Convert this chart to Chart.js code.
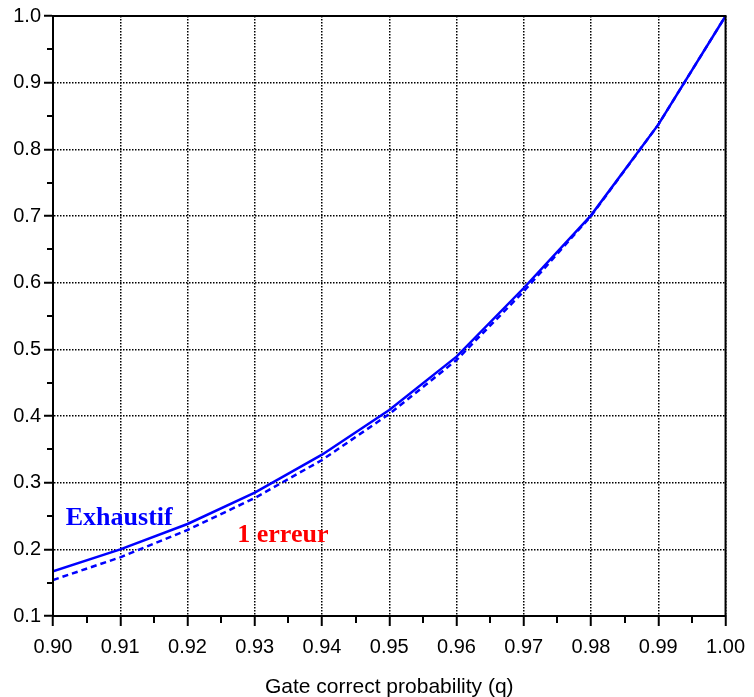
<!DOCTYPE html>
<html>
<head>
<meta charset="utf-8">
<script src="https://cdn.jsdelivr.net/npm/chart.js@4/dist/chart.umd.min.js"></script>
<style>body{margin:0;background:#fff}</style>
</head>
<body>
<canvas id="chart" width="754" height="697"></canvas>
<script>
let qValues   = [0.90, 0.91, 0.92, 0.93, 0.94, 0.95, 0.96, 0.97, 0.98, 0.99, 1.00];
let exhaustif = [0.167, 0.200, 0.238, 0.285, 0.342, 0.409, 0.489, 0.592, 0.701, 0.837, 1.000];
let unErreur  = [0.154, 0.188, 0.229, 0.277, 0.334, 0.403, 0.484, 0.587, 0.700, 0.837, 1.000];

let xMinorTicks = [0.905, 0.915, 0.925, 0.935, 0.945, 0.955, 0.965, 0.975, 0.985, 0.995];
let yMinorTicks = [0.15, 0.25, 0.35, 0.45, 0.55, 0.65, 0.75, 0.85, 0.95];

// text labels placed in data coordinates
let labelTexts  = ['Exhaustif', '1 erreur'];
let labelColors = ['#0000ff', '#ff0000'];
let labelX      = [0.9019, 0.9274];
let labelY      = [0.2365, 0.2115];

function toPoints(ys){
    return qValues.map((q, i) => ({x: q, y: ys[i]}));
}

let extras = {
    id: 'extras',
    afterDraw(chart){
        let ctx = chart.ctx;
        let xs = chart.scales.x, ys = chart.scales.y;
        let area = chart.chartArea;
        ctx.save();
        ctx.strokeStyle = '#000';
        ctx.lineWidth = 2;
        ctx.setLineDash([]);
        // minor ticks
        ctx.beginPath();
        xMinorTicks.forEach(v => {
            let px = Math.round(xs.getPixelForValue(v));
            ctx.moveTo(px, area.bottom);
            ctx.lineTo(px, area.bottom + 7);
        });
        yMinorTicks.forEach(v => {
            let py = Math.round(ys.getPixelForValue(v));
            ctx.moveTo(area.left, py);
            ctx.lineTo(area.left - 6, py);
        });
        ctx.stroke();
        // frame
        ctx.strokeRect(area.left, area.top, area.right - area.left, area.bottom - area.top);
        // text
        ctx.font = 'bold 26px "Liberation Serif", "Times New Roman", serif';
        ctx.textBaseline = 'alphabetic';
        ctx.textAlign = 'left';
        labelTexts.forEach((t, i) => {
            ctx.fillStyle = labelColors[i];
            ctx.fillText(t, xs.getPixelForValue(labelX[i]), ys.getPixelForValue(labelY[i]));
        });
        ctx.restore();
    }
};

function generateChart(){
    let context = document.getElementById('chart').getContext('2d');
    let chart = new Chart(context, {
        type: 'line',
        data: {
            datasets: [{
                label: 'Exhaustif',
                data: toPoints(exhaustif),
                borderColor: '#0000ff',
                borderWidth: 2.5,
                pointRadius: 0,
                tension: 0,
                fill: false
            }, {
                label: '1 erreur',
                data: toPoints(unErreur),
                borderColor: '#0000ff',
                borderWidth: 2.5,
                borderDash: [6, 4],
                pointRadius: 0,
                tension: 0,
                fill: false
            }]
        },
        options: {
            responsive: false,
            animation: false,
            layout: {padding: {top: 16, right: 25, left: 0, bottom: 0}},
            plugins: {legend: {display: false}, tooltip: {enabled: false}},
            scales: {
                x: {
                    type: 'linear',
                    min: 0.9,
                    max: 1.0,
                    afterFit: s => { s.height = 81; },
                    ticks: {
                        stepSize: 0.01,
                        padding: 9,
                        color: '#000',
                        maxRotation: 0,
                        autoSkip: false,
                        font: {family: '"Liberation Sans", Arial, sans-serif', size: 20},
                        callback: v => Number(v).toFixed(2)
                    },
                    grid: {
                        color: '#000',
                        lineWidth: 1.5,
                        tickLength: 10,
                        tickWidth: 2,
                        tickColor: '#000',
                        tickBorderDash: []
                    },
                    border: {display: true, color: '#000', width: 2, dash: [1.5, 1.5]},
                    title: {
                        display: true,
                        text: 'Gate correct probability (q)',
                        color: '#000',
                        padding: {top: 0, bottom: -3},
                        font: {family: '"Liberation Sans", Arial, sans-serif', size: 21}
                    }
                },
                y: {
                    min: 0.1,
                    max: 1.0,
                    afterFit: s => { s.width = 53; },
                    ticks: {
                        stepSize: 0.1,
                        padding: 3,
                        color: '#000',
                        font: {family: '"Liberation Sans", Arial, sans-serif', size: 20},
                        callback: v => Number(v).toFixed(1)
                    },
                    grid: {
                        color: '#000',
                        lineWidth: 1.5,
                        tickLength: 9,
                        tickWidth: 2,
                        tickColor: '#000',
                        tickBorderDash: []
                    },
                    border: {display: true, color: '#000', width: 2, dash: [1.5, 1.5]}
                }
            }
        },
        plugins: [extras]
    });
    return chart;
}

generateChart();
</script>
</body>
</html>
